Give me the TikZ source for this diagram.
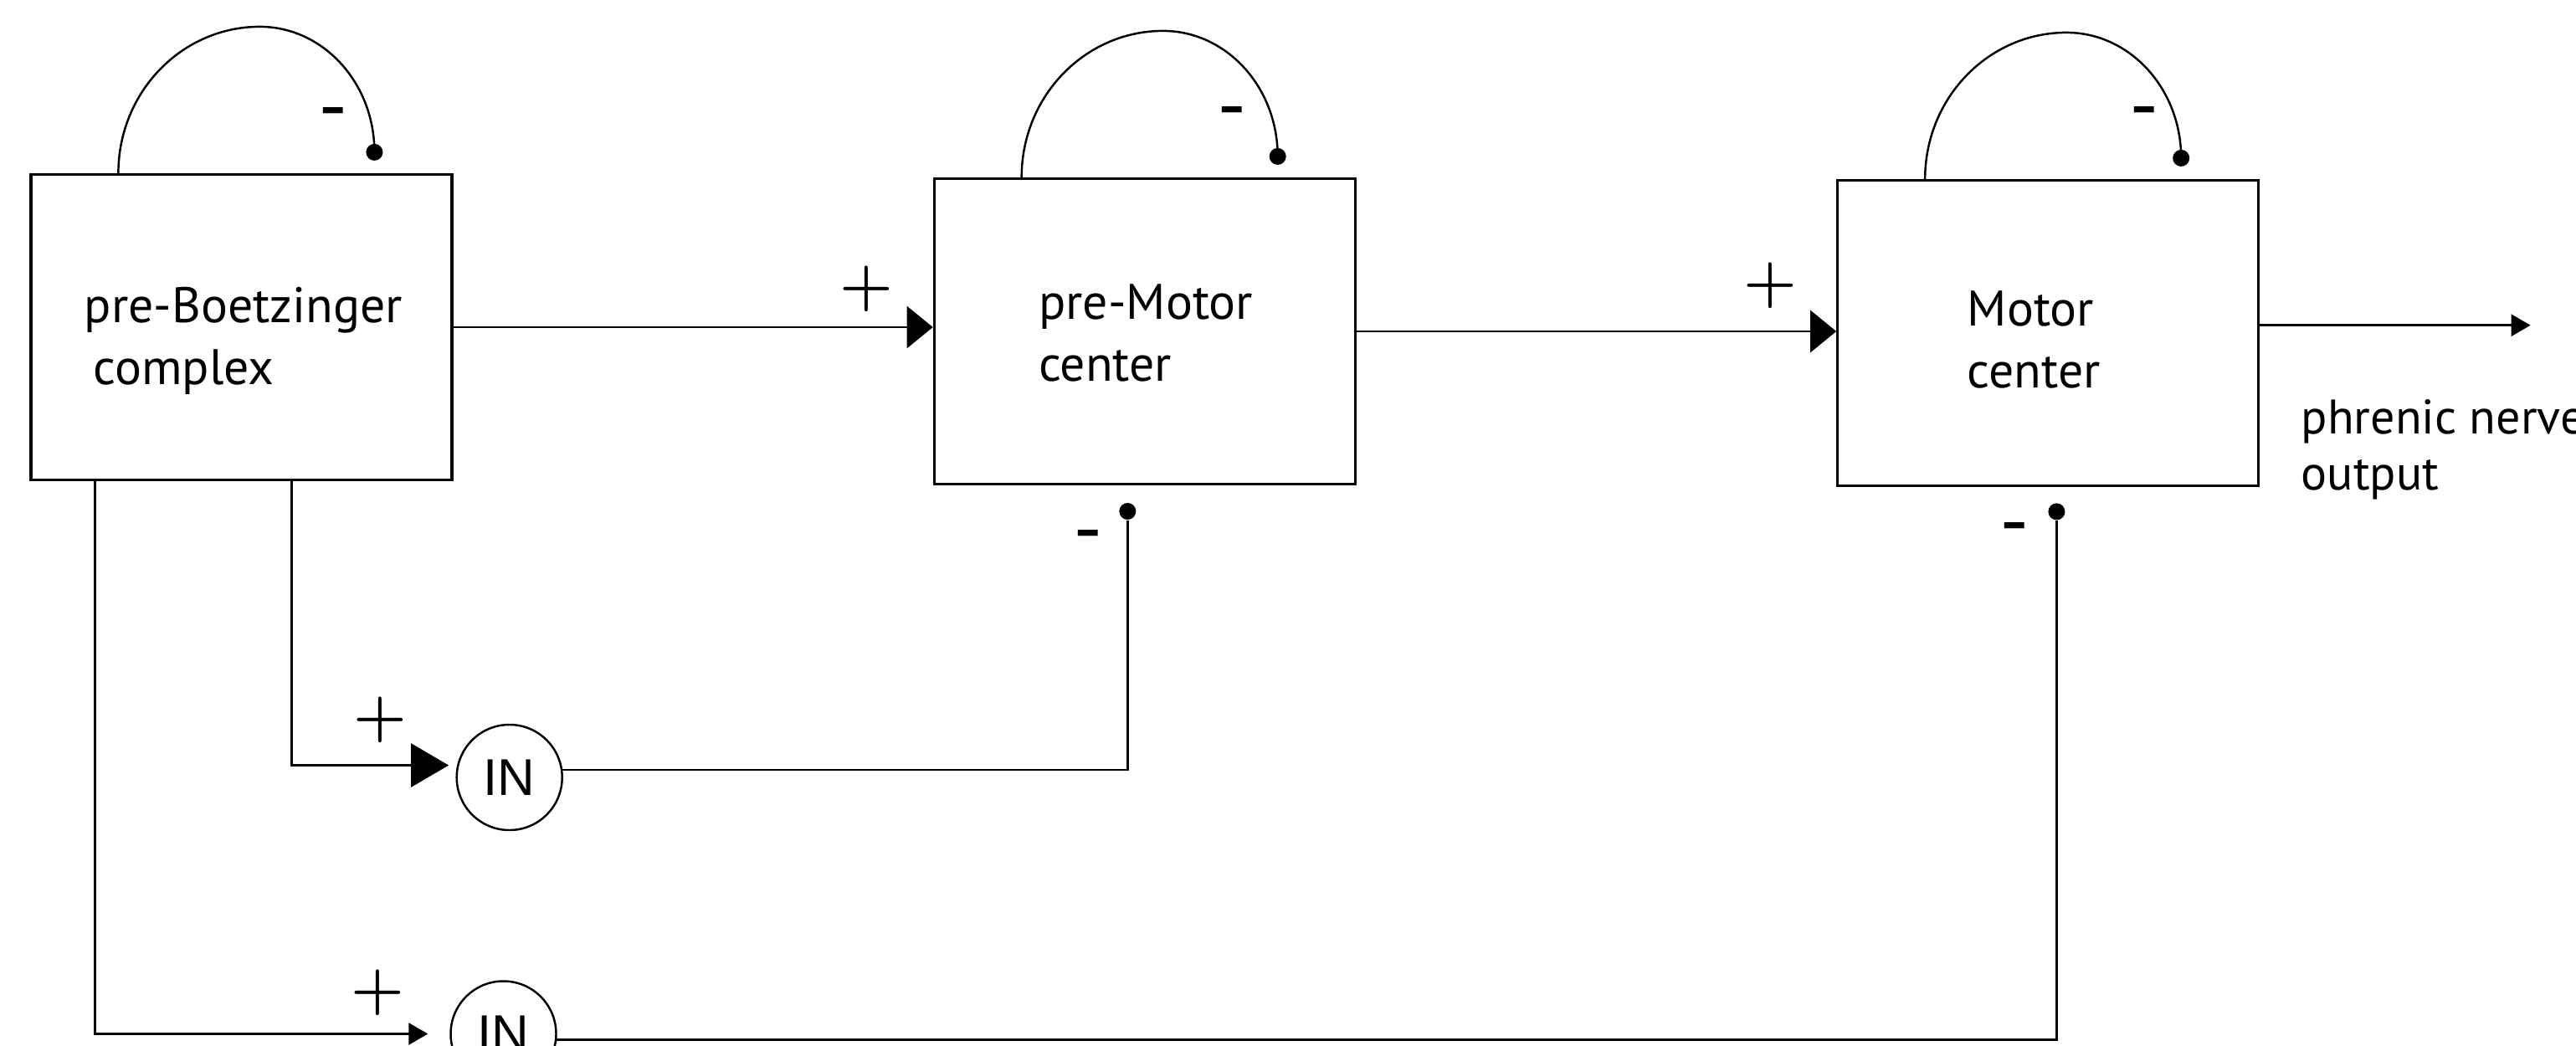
\documentclass[tikz,border=0pt]{standalone}
\usepackage{fontspec}
\setmainfont{PT Sans}
\newfontfamily\arialfont{Liberation Sans}
\usetikzlibrary{arrows.meta}

\begin{document}
\begin{tikzpicture}[
  box/.style={draw, line width=0.9pt, minimum width=5.03cm, minimum height=3.65cm, inner sep=0pt},
  boxtext/.style={align=left, anchor=west, inner sep=0pt, font=\fontsize{17}{21}\selectfont},
  neuron/.style={draw, circle, line width=0.7pt, minimum size=1.26cm, inner sep=0pt, font=\arialfont\fontsize{17.6}{20}\selectfont},
  dot/.style={circle, fill, inner sep=0pt, minimum size=2mm},
  sign/.style={inner sep=0pt, font=\fontsize{28}{28}\selectfont},
  plus/.style={inner sep=0pt, font=\fontsize{20.5}{20.5}\selectfont\boldmath},
  link/.style={line width=0.8pt},
  loopline/.style={line width=0.7pt},
  bigarrow/.style={link, -{Triangle[length=3.1mm, width=5mm]}},
  inarrow/.style={link, -{Triangle[length=4.5mm, width=5.2mm]}},
  smallarrow/.style={link, -{Triangle[length=2.3mm, width=2.6mm]}}
]
\useasboundingbox (0,0) rectangle (30.78,12.49);

% centres
\node[box] (b1) at (2.885, 8.58) {};
\node[box] (b2) at (13.6775, 8.53) {};
\node[box] (b3) at (24.4725, 8.51) {};
\node[boxtext] (t1) at (1.00, 8.42) {pre-Boetzinger\\\hspace*{0.11cm}complex};
\node[boxtext] (t2) at (12.406, 8.51) {pre-Motor\\center};
\node[boxtext] (t3) at (23.50, 8.43) {Motor\\center};

% interneurons
\node[neuron] (in1) at (6.087, 3.20) {IN};
\node[neuron] (in2) at (6.015, 0.135) {IN};

% inhibitory endings
\node[dot] (d1) at ([xshift=4.12cm, yshift=0.25cm]b1.north west) {};
\node[dot] (d2) at ([xshift=4.12cm, yshift=0.25cm]b2.north west) {};
\node[dot] (d3) at ([xshift=4.12cm, yshift=0.25cm]b3.north west) {};
\node[dot] (d4) at (13.473, 6.38) {};
\node[dot] (d5) at (24.574, 6.376) {};
\coordinate (out) at (30.236, 8.603);

% signs
\node[plus] (p1) at (10.35, 9.04) {$+$};
\node[plus] (p2) at (21.156, 9.08) {$+$};
\node[plus] (p3) at (4.545, 3.89) {$+$};
\node[plus] (p4) at (4.517, 0.63) {$+$};
\node[sign] (m1) at (3.98, 11.045) {-};
\node[sign] (m2) at (14.72, 11.05) {-};
\node[sign] (m3) at (25.62, 11.05) {-};
\node[sign] (m4) at (13.00, 5.99) {-};
\node[sign] (m5) at (24.07, 6.08) {-};

\node[anchor=west, align=left, inner sep=0pt, font=\fontsize{16.5}{19}\selectfont] (o1) at (27.49, 7.12) {phrenic nerve\\output};

% main chain
\draw[bigarrow] (b1.east) -- (b1.east -| b2.west);
\draw[bigarrow] (b2.east) -- (b2.east -| b3.west);
\draw[smallarrow] (b3.east |- out) -- (out);

% self inhibition
\draw[loopline] ([xshift=1.06cm]b1.north west) arc[start angle=180, end angle=90, x radius=1.69, y radius=1.75] arc[start angle=90, end angle=0, x radius=1.37, y radius=1.5];
\draw[loopline] ([xshift=1.06cm]b2.north west) arc[start angle=180, end angle=90, x radius=1.69, y radius=1.75] arc[start angle=90, end angle=0, x radius=1.37, y radius=1.5];
\draw[loopline] ([xshift=1.06cm]b3.north west) arc[start angle=180, end angle=90, x radius=1.69, y radius=1.75] arc[start angle=90, end angle=0, x radius=1.37, y radius=1.5];

% feed-forward inhibition
\draw[inarrow, shorten >=1mm] ([xshift=3.13cm]b1.south west) |- (in1.167);
\draw[smallarrow, shorten >=2.6mm] ([xshift=0.78cm]b1.south west) |- (in2.west);
\draw[link] (in1.8) -| (d4);
\draw[link] (in2.-6) -| (d5);
\end{tikzpicture}
\end{document}
